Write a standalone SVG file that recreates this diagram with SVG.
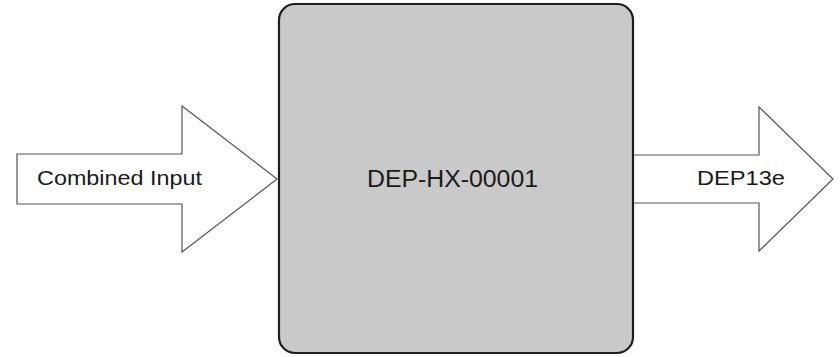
<svg xmlns="http://www.w3.org/2000/svg" width="840" height="357" viewBox="0 0 840 357">
<style>
.arrow{fill:#ffffff;stroke:#555555;stroke-width:1.2;stroke-linejoin:miter}
.box{fill:#c9c9c9;stroke:#1e1e1e;stroke-width:2.2}
.lbl{font-family:"Liberation Sans",Arial,sans-serif;fill:#1a1a1a}
</style>
<rect width="840" height="357" fill="#ffffff"/>
<g id="connectors">
<g id="arrow-in">
<polygon class="arrow" points="17,154 182,154 182,106 277,179 182,252 182,204 17,204"/>
<text class="lbl" x="37" y="185" font-size="19.5" textLength="165" lengthAdjust="spacingAndGlyphs">Combined Input</text>
</g>
<g id="arrow-out">
<polygon class="arrow" points="633,155 759,155 759,107 833,179 759,251 759,203 633,203"/>
<text class="lbl" x="697" y="185" font-size="21" textLength="88" lengthAdjust="spacingAndGlyphs">DEP13e</text>
</g>
</g>
<g id="node-dep-hx">
<rect class="box" x="279" y="4" width="354" height="349" rx="16" ry="16"/>
<text class="lbl" x="367" y="187" font-size="23" textLength="171" lengthAdjust="spacingAndGlyphs">DEP-HX-00001</text>
</g>
</svg>
